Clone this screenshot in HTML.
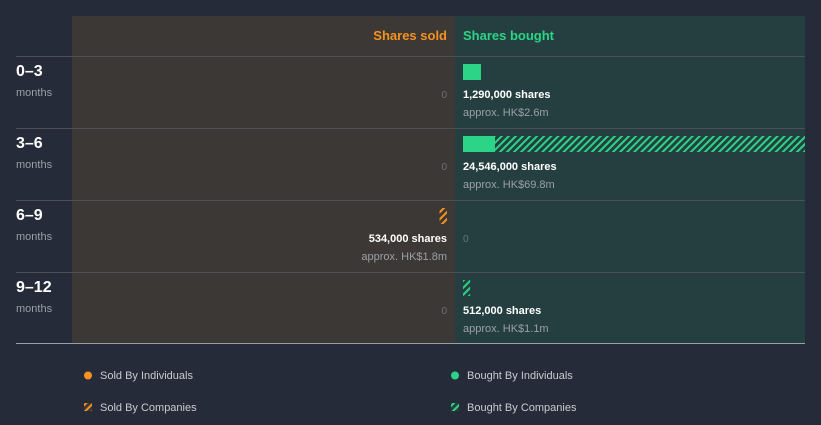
<!DOCTYPE html>
<html><head><meta charset="utf-8">
<style>
body{margin:0;background:#252b38;font-family:"Liberation Sans",sans-serif;}
svg text{font-family:"Liberation Sans",sans-serif;}
</style></head>
<body>
<svg id="chart" width="821" height="420" viewBox="0 0 821 420">
<defs>
<pattern id="hatchG" patternUnits="userSpaceOnUse" width="5" height="5" patternTransform="rotate(45)">
<rect width="5" height="5" fill="#253f40"/><rect width="2" height="5" fill="#2bd486"/></pattern>
<pattern id="hatchO" patternUnits="userSpaceOnUse" width="5" height="5" patternTransform="rotate(45)">
<rect width="5" height="5" fill="#3c3835"/><rect width="2" height="5" fill="#f7921e"/></pattern>
</defs>
<rect x="72" y="16" width="383" height="327" fill="#3c3835"/>
<rect x="455" y="16" width="350" height="327" fill="#253f40"/>
<text x="447" y="40" text-anchor="end" font-size="13" font-weight="bold" fill="#f7921e">Shares sold</text>
<text x="463" y="40" font-size="13" font-weight="bold" fill="#2bd486">Shares bought</text>
<line x1="16" y1="56.5" x2="805" y2="56.5" stroke="#4a4f55"/>
<line x1="16" y1="343.5" x2="805" y2="343.5" stroke="#9aa0a8"/>
<g id="rows"></g>
<g>
<circle cx="88" cy="375.5" r="4" fill="#f7921e"/>
<text x="100" y="379" font-size="11" fill="#c8ccd2">Sold By Individuals</text>
<circle cx="455" cy="375.5" r="4" fill="#2bd486"/>
<text x="467" y="379" font-size="11" fill="#c8ccd2">Bought By Individuals</text>
<rect x="84" y="403" width="8" height="8" fill="url(#hatchO)"/>
<text x="100" y="411" font-size="11" fill="#c8ccd2">Sold By Companies</text>
<rect x="451" y="403" width="8" height="8" fill="url(#hatchG)"/>
<text x="467" y="411" font-size="11" fill="#c8ccd2">Bought By Companies</text>
</g>
</svg>
<script>
const periods = ["0–3", "3–6", "6–9", "9–12"];
const soldIndividuals = [0, 0, 0, 0];
const soldCompanies = [0, 0, 534000, 0];
const boughtIndividuals = [1290000, 2300000, 0, 0];
const boughtCompanies = [0, 22246000, 0, 512000];
const soldValues = ["", "", "approx. HK$1.8m", ""];
const boughtValues = ["approx. HK$2.6m", "approx. HK$69.8m", "", "approx. HK$1.1m"];

const NS = "http://www.w3.org/2000/svg";
const g = document.getElementById("rows");
const maxTotal = Math.max(...periods.map((p,i)=>Math.max(soldIndividuals[i]+soldCompanies[i], boughtIndividuals[i]+boughtCompanies[i])));
const maxW = 342;
const w = v => v / maxTotal * maxW;
const rowY = i => 56 + i * 72;
function mk(tag, attrs, txt){const e=document.createElementNS(NS,tag);for(const k in attrs)e.setAttribute(k,attrs[k]);if(txt!==undefined)e.textContent=txt;g.appendChild(e);return e;}
const fmt = n => n.toLocaleString("en-US");
periods.forEach((p,i)=>{
  const y = rowY(i);
  if(i>0){const l=mk("line",{x1:16,y1:y+0.5,x2:805,y2:y+0.5,stroke:"#4a4f55"});
    
    }
  const t=mk("text",{x:16,y:y+20,"font-size":16,"font-weight":"bold",fill:"#ffffff"},p);
  
  
  const m=mk("text",{x:16,y:y+40,"font-size":11,fill:"#9aa0a8"},"months");
  
  
  // bought
  const bt = boughtIndividuals[i]+boughtCompanies[i];
  if(bt>0){
    let x=463;
    if(boughtIndividuals[i]>0){const r=mk("rect",{x:x,y:y+8,width:w(boughtIndividuals[i]),height:16,fill:"#2bd486"});
      
      
      x+=w(boughtIndividuals[i]);}
    if(boughtCompanies[i]>0){const r=mk("rect",{x:x,y:y+8,width:w(boughtCompanies[i]),height:16,fill:"url(#hatchG)"});
      
      }
    const s=mk("text",{x:463,y:y+42,"font-size":11,"font-weight":"bold",fill:"#ffffff"},fmt(bt)+" shares");
    
    
    const a=mk("text",{x:463,y:y+60,"font-size":11,fill:"#9aa0a8"},boughtValues[i]);
    
    
  } else {
    const z=mk("text",{x:463,y:y+186-182+182-182+186-182+ (0) + 182-182+186-182+ -4 + 0 + 0 + 182-182+186-186+182-182+ (186-182) -4 + 182-182+ 182-182 + 182-182 +  (42- 4 -4) ,"font-size":10,fill:"#6b7075"},"0");
    
    
  }
  const st = soldIndividuals[i]+soldCompanies[i];
  if(st>0){
    let x=447;
    if(soldIndividuals[i]>0){x-=w(soldIndividuals[i]);const r=mk("rect",{x:x,y:y+8,width:w(soldIndividuals[i]),height:16,fill:"#f7921e"});
      
      }
    if(soldCompanies[i]>0){x-=w(soldCompanies[i]);const r=mk("rect",{x:x,y:y+8,width:w(soldCompanies[i]),height:16,fill:"url(#hatchO)"});
      
      }
    const s=mk("text",{x:447,y:y+42,"font-size":11,"font-weight":"bold",fill:"#ffffff","text-anchor":"end"},fmt(st)+" shares");
    
    
    const a=mk("text",{x:447,y:y+60,"font-size":11,fill:"#9aa0a8","text-anchor":"end"},soldValues[i]);
    
    
  } else {
    const z=mk("text",{x:447,y:y+42,"font-size":10,fill:"#6b7075","text-anchor":"end"},"0");
    
    
  }
});
</script>
</body></html>
